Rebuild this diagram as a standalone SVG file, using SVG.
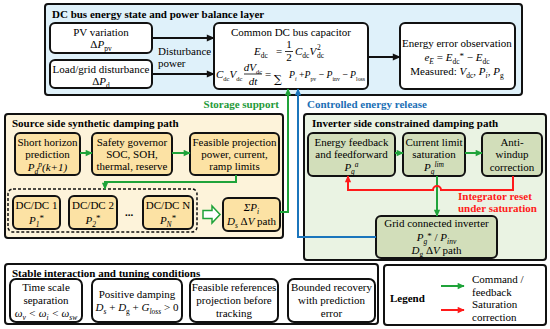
<svg xmlns="http://www.w3.org/2000/svg" width="550" height="329" viewBox="0 0 550 329">
<style>
text{font-family:"Liberation Serif","Times New Roman",serif;font-size:11px;fill:#000}
.b{font-weight:bold}
.i{font-style:italic}
.n{font-style:normal}
.c{text-anchor:middle}
.s{font-size:7.5px}
.st{font-size:9px;font-style:normal}
.panel{stroke:#111;stroke-width:2}
.box{stroke:#111;stroke-width:2;fill:#fff}
.ybox{stroke:#111;stroke-width:2;fill:#fce2a4}
.gbox{stroke:#111;stroke-width:2;fill:#d2deba}
.k{stroke:#111;stroke-width:2;fill:none}
.g{stroke:#1fa33a;stroke-width:2;fill:none}
.r{stroke:#ff1a1a;stroke-width:2;fill:none}
.bl{stroke:#1b75bc;stroke-width:2;fill:none}
</style>
<defs>
<marker id="ak" viewBox="0 0 10 10" refX="9" refY="5" markerWidth="9" markerHeight="8" orient="auto" markerUnits="userSpaceOnUse"><path d="M0,0.5 L10,5 L0,9.5 z" fill="#111"/></marker>
<marker id="ag" viewBox="0 0 10 10" refX="9" refY="5" markerWidth="8" markerHeight="7" orient="auto" markerUnits="userSpaceOnUse"><path d="M0,0.5 L10,5 L0,9.5 z" fill="#1fa33a"/></marker>
<marker id="ar" viewBox="0 0 10 10" refX="9" refY="5" markerWidth="8" markerHeight="7" orient="auto" markerUnits="userSpaceOnUse"><path d="M0,0.5 L10,5 L0,9.5 z" fill="#ff1a1a"/></marker>
<marker id="ab" viewBox="0 0 10 10" refX="9" refY="5" markerWidth="8" markerHeight="7" orient="auto" markerUnits="userSpaceOnUse"><path d="M0,0.5 L10,5 L0,9.5 z" fill="#1b75bc"/></marker>
</defs>
<rect width="550" height="329" fill="#fff"/>

<!-- Panels -->
<g id="panel-dcbus">
<rect class="panel" x="45" y="4" width="477" height="91" rx="3" fill="#dff1fa"/>
<text class="b" x="52" y="18">DC bus energy state and power balance layer</text>
</g>
<g id="panel-source">
<rect class="panel" x="5" y="114" width="278" height="124" rx="3" fill="#fdf3da"/>
<text class="b" x="12" y="127">Source side synthetic damping path</text>
</g>
<g id="panel-inverter">
<rect class="panel" x="304" y="114" width="242" height="146" rx="3" fill="#eaf3e3"/>
<text class="b" x="312" y="127">Inverter side constrained damping path</text>
</g>
<g id="panel-stable">
<rect class="panel" x="5" y="264" width="373" height="60" rx="3" fill="#fff"/>
<text class="b" x="12" y="277">Stable interaction and tuning conditions</text>
</g>

<!-- Top nodes -->
<g id="pv">
<rect class="box" x="50" y="23" width="102" height="30" rx="5"/>
<text class="c" x="101" y="36">PV variation</text>
<text class="c" x="101" y="48">Δ<tspan class="i">P</tspan><tspan class="s" baseline-shift="-2.5">pv</tspan></text>
</g>
<g id="load">
<rect class="box" x="50" y="60" width="102" height="28" rx="5"/>
<text class="c" x="101" y="73">Load/grid disturbance</text>
<text class="c" x="101" y="85">Δ<tspan class="i">P</tspan><tspan class="s" baseline-shift="-2.5">d</tspan></text>
</g>
<g id="capacitor">
<rect class="box" x="214" y="23" width="154" height="66" rx="5"/>
<text class="c" x="291" y="36">Common DC bus capacitor</text>
<text class="i" x="254" y="55">E<tspan class="s n" baseline-shift="-2.5">dc</tspan></text>
<text x="276" y="55">=</text>
<text class="c" x="289" y="48" font-size="10">1</text>
<line x1="285" y1="51.5" x2="293" y2="51.5" stroke="#000" stroke-width="0.8"/>
<text class="c" x="289" y="61" font-size="10">2</text>
<text class="i" x="295" y="55">C<tspan class="s n" baseline-shift="-2.5">dc</tspan>V</text>
<text class="s" x="317" y="50">2</text>
<text class="s" x="317" y="58">dc</text>
<text class="i" x="216" y="78" font-size="10">C<tspan class="n" font-size="6.5" baseline-shift="-2.5">dc</tspan>V<tspan class="n" font-size="6.5" baseline-shift="-2.5">dc</tspan></text>
<text class="i c" x="253" y="71" font-size="10">dV<tspan class="n" font-size="6.5" baseline-shift="-2.5">dc</tspan></text>
<line x1="244" y1="74" x2="262" y2="74" stroke="#000" stroke-width="0.8"/>
<text class="i c" x="253" y="85" font-size="10">dt</text>
<text x="265" y="78" font-size="10">=</text>
<text x="274" y="83" font-size="19" style="font-family:'DejaVu Serif',serif">∑</text>
<text class="i" x="289" y="78" font-size="10" textLength="76" lengthAdjust="spacingAndGlyphs">P<tspan font-size="6.5" baseline-shift="-2.5">i</tspan><tspan class="n"> +</tspan>P<tspan class="n" font-size="6.5" baseline-shift="-2.5">pv</tspan><tspan class="n"> − </tspan>P<tspan class="n" font-size="6.5" baseline-shift="-2.5">inv</tspan><tspan class="n"> − </tspan>P<tspan class="n" font-size="6.5" baseline-shift="-2.5">loss</tspan></text>
</g>
<g id="energy-error">
<rect class="box" x="400" y="23" width="115" height="66" rx="5"/>
<text class="c" x="457" y="47">Energy error observation</text>
<text class="c" x="457" y="61"><tspan class="i">e</tspan><tspan class="s i" baseline-shift="-2.5">E</tspan> = <tspan class="i">E</tspan><tspan class="s" baseline-shift="-2.5">dc</tspan><tspan class="st" baseline-shift="2">*</tspan> − <tspan class="i">E</tspan><tspan class="s" baseline-shift="-2.5">dc</tspan></text>
<text class="c" x="457" y="75">Measured: <tspan class="i">V</tspan><tspan class="s" baseline-shift="-2.5">dc</tspan>, <tspan class="i">P</tspan><tspan class="s i" baseline-shift="-2.5">i</tspan>, <tspan class="i">P</tspan><tspan class="s" baseline-shift="-2.5">g</tspan></text>
</g>

<!-- Source side nodes -->
<g id="prediction">
<rect class="ybox" x="15" y="133" width="65" height="42" rx="5"/>
<text class="c" x="47.5" y="146">Short horizon</text>
<text class="c" x="47.5" y="158">prediction</text>
<text class="c i" x="47.5" y="171">P<tspan class="s" baseline-shift="-2.5">d</tspan><tspan class="s" baseline-shift="4">p</tspan>(k+1)</text>
</g>
<g id="safety">
<rect class="ybox" x="92" y="133" width="80" height="42" rx="5"/>
<text class="c" x="132" y="146">Safety governor</text>
<text class="c" x="132" y="158">SOC, SOH,</text>
<text class="c" x="132" y="170">thermal, reserve</text>
</g>
<g id="feasible">
<rect class="ybox" x="190" y="133" width="89" height="42" rx="5"/>
<text class="c" x="234.5" y="146">Feasible projection</text>
<text class="c" x="234.5" y="158">power, current,</text>
<text class="c" x="234.5" y="170">ramp limits</text>
</g>
<g id="dcdc-group">
<rect x="8" y="189" width="189" height="43" rx="5" fill="none" stroke="#111" stroke-width="1.5" stroke-dasharray="3,2"/>
<text class="b" x="125" y="216">...</text>
</g>
<g id="dcdc1">
<rect class="ybox" x="13" y="196" width="47" height="33" rx="5"/>
<text class="c" x="36.5" y="209">DC/DC 1</text>
<text class="c i" x="36.5" y="224">P<tspan class="s" baseline-shift="-2.5">1</tspan><tspan class="st" baseline-shift="3">*</tspan></text>
</g>
<g id="dcdc2">
<rect class="ybox" x="69" y="196" width="48" height="33" rx="5"/>
<text class="c" x="93" y="209">DC/DC 2</text>
<text class="c i" x="93" y="224">P<tspan class="s" baseline-shift="-2.5">2</tspan><tspan class="st" baseline-shift="3">*</tspan></text>
</g>
<g id="dcdcN">
<rect class="ybox" x="143" y="196" width="50" height="33" rx="5"/>
<text class="c" x="168" y="209">DC/DC N</text>
<text class="c i" x="168" y="224">P<tspan class="s" baseline-shift="-2.5">N</tspan><tspan class="st" baseline-shift="3">*</tspan></text>
</g>
<g id="sum">
<rect class="ybox" x="223" y="198" width="57" height="33" rx="5"/>
<text class="c i" x="251.5" y="211">ΣP<tspan class="s" baseline-shift="-2.5">i</tspan></text>
<text class="c" x="251.5" y="225"><tspan class="i">D</tspan><tspan class="s i" baseline-shift="-2.5">s</tspan> Δ<tspan class="i">V</tspan> path</text>
</g>

<!-- Inverter nodes -->
<g id="energy-feedback">
<rect class="gbox" x="308" y="133" width="87" height="43" rx="5"/>
<text class="c" x="351.5" y="146">Energy feedback</text>
<text class="c" x="351.5" y="158">and feedforward</text>
<text class="c i" x="351.5" y="171">P<tspan class="s" baseline-shift="-2.5">g</tspan><tspan class="s" baseline-shift="4">a</tspan></text>
</g>
<g id="current-limit">
<rect class="gbox" x="403" y="133" width="62" height="43" rx="5"/>
<text class="c" x="434" y="146">Current limit</text>
<text class="c" x="434" y="158">saturation</text>
<text class="c i" x="434" y="171">P<tspan class="s" baseline-shift="-2.5">g</tspan><tspan class="s" baseline-shift="4">lim</tspan></text>
</g>
<g id="anti-windup">
<rect class="gbox" x="482" y="133" width="60" height="43" rx="5"/>
<text class="c" x="512" y="146">Anti-</text>
<text class="c" x="512" y="158">windup</text>
<text class="c" x="512" y="171">correction</text>
</g>
<g id="grid-inverter">
<rect class="gbox" x="376" y="216" width="121" height="42" rx="5"/>
<text class="c" x="436.5" y="227">Grid connected inverter</text>
<text class="c i" x="436.5" y="241">P<tspan class="s" baseline-shift="-2.5">g</tspan><tspan class="st" baseline-shift="2">*</tspan><tspan class="n"> / </tspan>P<tspan class="s" baseline-shift="-2.5">inv</tspan></text>
<text class="c" x="436.5" y="254"><tspan class="i">D</tspan><tspan class="s" baseline-shift="-2.5">g</tspan> Δ<tspan class="i">V</tspan> path</text>
</g>

<!-- Stable conditions -->
<g id="time-scale">
<rect class="box" x="10" y="279" width="72" height="43" rx="6"/>
<text class="c" x="46" y="291">Time scale</text>
<text class="c" x="46" y="304">separation</text>
<text class="c i" x="46" y="317" font-size="10">ω<tspan class="s" baseline-shift="-2.5">v</tspan> &lt; ω<tspan class="s" baseline-shift="-2.5">i</tspan> &lt; ω<tspan class="s" baseline-shift="-2.5">sw</tspan></text>
</g>
<g id="positive-damping">
<rect class="box" x="92" y="279" width="90" height="43" rx="6"/>
<text class="c" x="137" y="298">Positive damping</text>
<text class="c" x="137" y="311"><tspan class="i">D</tspan><tspan class="s i" baseline-shift="-2.5">s</tspan> + <tspan class="i">D</tspan><tspan class="s" baseline-shift="-2.5">g</tspan> + <tspan class="i">G</tspan><tspan class="s i" baseline-shift="-2.5">loss</tspan> &gt; 0</text>
</g>
<g id="feasible-refs">
<rect class="box" x="190" y="279" width="88" height="43" rx="6"/>
<text class="c" x="234" y="291">Feasible references</text>
<text class="c" x="234" y="304">projection before</text>
<text class="c" x="234" y="317">tracking</text>
</g>
<g id="bounded">
<rect class="box" x="288" y="279" width="87" height="43" rx="6"/>
<text class="c" x="331.5" y="291">Bounded recovery</text>
<text class="c" x="331.5" y="304">with prediction</text>
<text class="c" x="331.5" y="317">error</text>
</g>

<!-- Legend -->
<g id="legend">
<rect class="panel" x="384" y="265" width="162" height="60" rx="3" fill="#fff"/>
<text class="b" x="390" y="302">Legend</text>
<line class="g" x1="441" y1="286" x2="464" y2="286" marker-end="url(#ag)"/>
<line class="r" x1="441" y1="310" x2="464" y2="310" marker-end="url(#ar)"/>
<text x="472" y="283">Command /</text>
<text x="472" y="296">feedback</text>
<text x="472" y="308">Saturation</text>
<text x="472" y="321">correction</text>
</g>

<!-- Connectors -->
<g id="connectors">
<line class="k" x1="152" y1="38" x2="214" y2="38" marker-end="url(#ak)"/>
<line class="k" x1="152" y1="74" x2="214" y2="74" marker-end="url(#ak)"/>
<text x="158" y="55">Disturbance</text>
<text x="158" y="67">power</text>
<line class="k" x1="368" y1="57" x2="400" y2="57" marker-end="url(#ak)"/>

<line class="g" x1="80" y1="153" x2="92" y2="153" marker-end="url(#ag)"/>
<line class="g" x1="172" y1="153" x2="190" y2="153" marker-end="url(#ag)"/>
<path class="g" d="M236,175 V182 H105 V189" marker-end="url(#ag)"/>
<polygon points="203,210.5 212,210.5 212,206 220,214.5 212,223 212,218.5 203,218.5" fill="#fff" stroke="#1fa33a" stroke-width="1.5"/>
<path class="g" d="M280,212 H288 V89" marker-end="url(#ag)"/>
<path class="bl" d="M376,237 H298 V89" marker-end="url(#ab)"/>
<text class="b" x="279" y="108" text-anchor="end" style="fill:#1f9a3a">Storage support</text>
<text class="b" x="307" y="108" style="fill:#1b6fb5">Controlled energy release</text>

<line class="g" x1="395" y1="153" x2="403" y2="153" marker-end="url(#ag)"/>
<line class="g" x1="465" y1="153" x2="482" y2="153" marker-end="url(#ag)"/>
<line class="g" x1="437" y1="176" x2="437" y2="216" marker-end="url(#ag)"/>
<path class="r" d="M513,176 V190 H441 A4,4 0 0 0 433,190 H348 V176" marker-end="url(#ar)"/>
<text class="b" x="458" y="200" style="fill:#ff1a1a">Integrator reset</text>
<text class="b" x="458" y="212" style="fill:#ff1a1a">under saturation</text>
</g>
</svg>
